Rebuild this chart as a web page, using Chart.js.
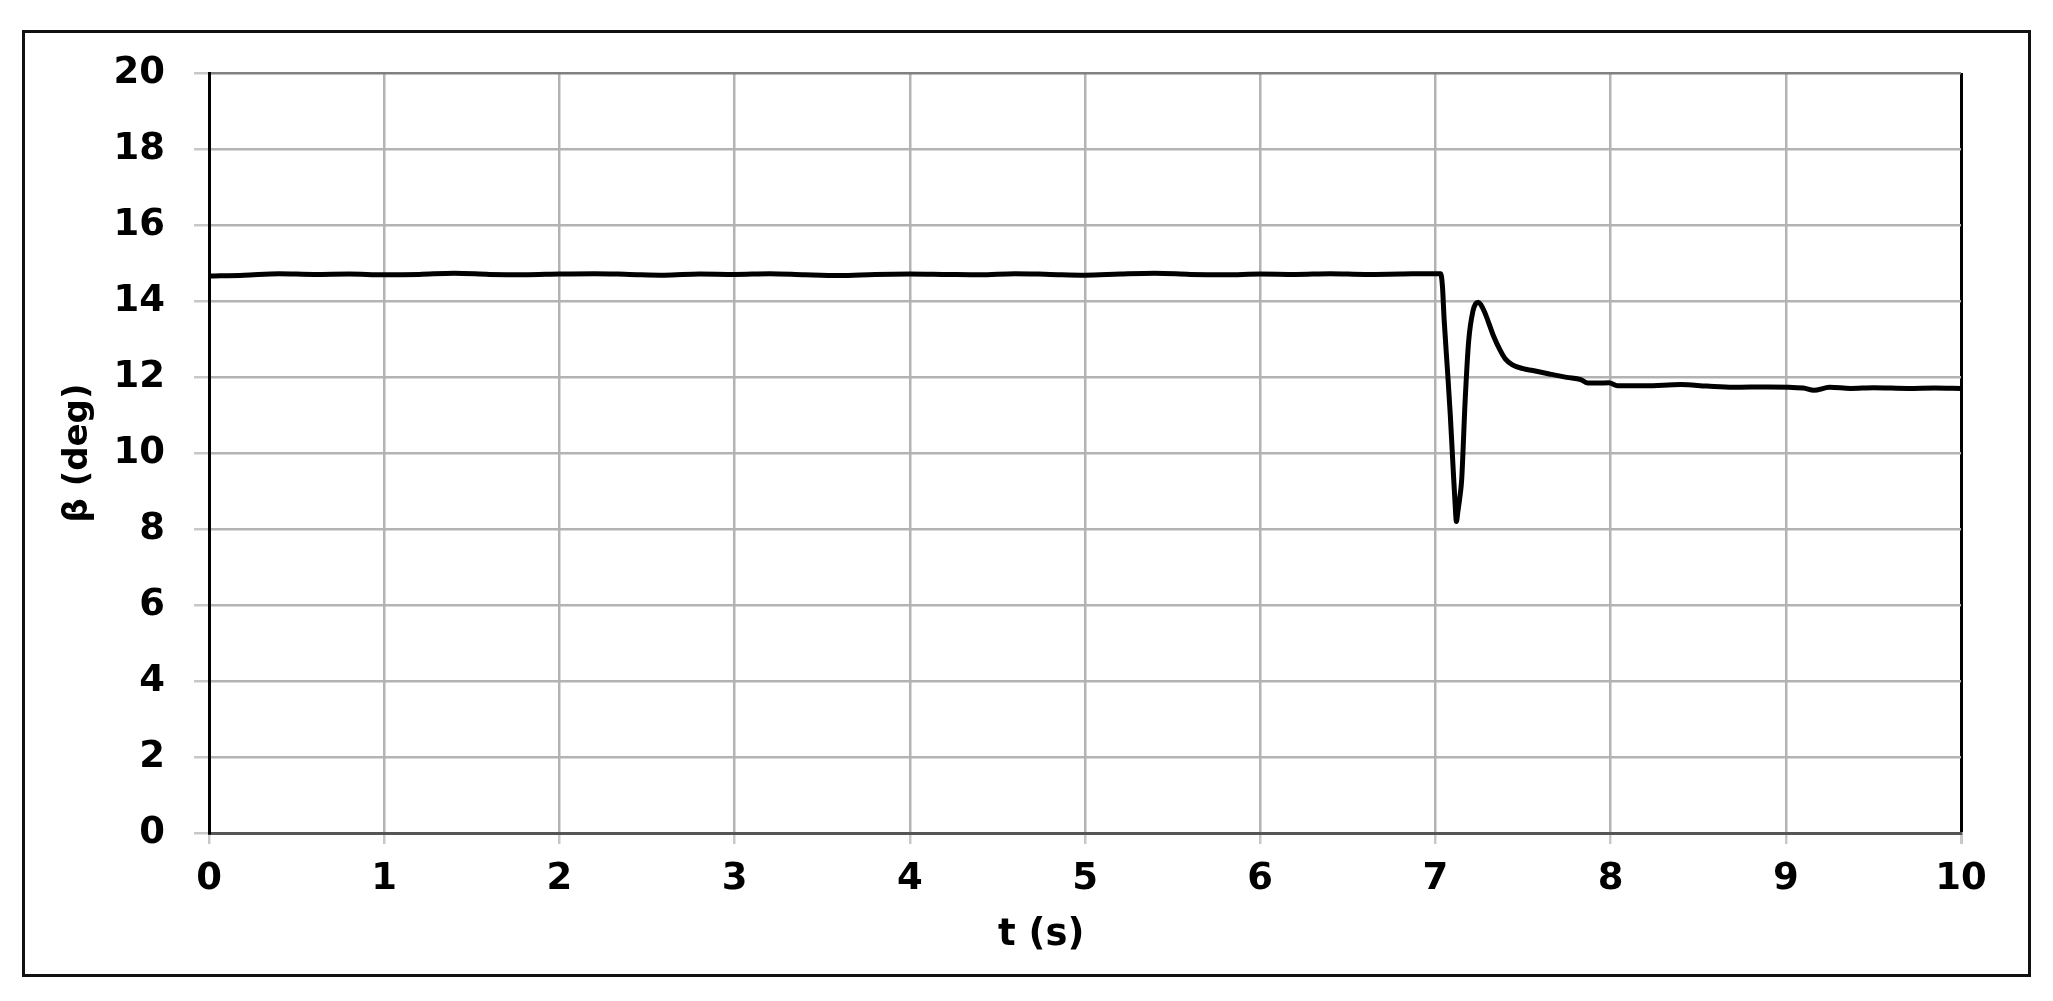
<!DOCTYPE html>
<html>
<head>
<meta charset="utf-8">
<script src="https://cdn.jsdelivr.net/npm/chart.js@4.4.0/dist/chart.umd.min.js"></script>
<style>
  html, body { margin: 0; padding: 0; background: #fff; }
  #wrap { width: 2053px; height: 1001px; }
</style>
</head>
<body>
<div id="wrap"><canvas id="grafico" width="2053" height="1001"></canvas></div>
<script>
// dados (tempo em s, beta em graus)
const tempo = [
  0, 0.2, 0.4, 0.6, 0.8, 1.0, 1.2, 1.4, 1.6, 1.8,
  2.0, 2.2, 2.4, 2.6, 2.8, 3.0, 3.2, 3.4, 3.6, 3.8,
  4.0, 4.2, 4.4, 4.6, 4.8, 5.0, 5.2, 5.4, 5.6, 5.8,
  6.0, 6.2, 6.4, 6.6, 6.8, 7.0,
  7.03, 7.04, 7.05, 7.07, 7.085, 7.10, 7.112, 7.12, 7.128, 7.14,
  7.15, 7.17, 7.19, 7.215, 7.23, 7.245, 7.26, 7.28, 7.30, 7.33,
  7.37, 7.40, 7.44, 7.50, 7.556, 7.65, 7.75, 7.83, 7.87, 7.93,
  7.99, 8.04, 8.2, 8.4, 8.55, 8.7, 8.9, 9.1, 9.16, 9.25,
  9.37, 9.5, 9.7, 9.85, 10
];
const beta = [
  14.66, 14.68, 14.72, 14.70, 14.71, 14.69, 14.70, 14.73, 14.70, 14.69,
  14.71, 14.72, 14.70, 14.68, 14.71, 14.70, 14.72, 14.69, 14.67, 14.70,
  14.71, 14.70, 14.69, 14.72, 14.70, 14.68, 14.71, 14.73, 14.70, 14.69,
  14.71, 14.70, 14.72, 14.70, 14.71, 14.72,
  14.72, 14.4, 13.5, 12.1, 11.0, 9.7, 8.7, 8.2, 8.45, 8.85,
  9.3, 11.4, 12.95, 13.75, 13.93, 13.97, 13.9, 13.72, 13.48, 13.1,
  12.7, 12.47, 12.32, 12.22, 12.17, 12.08, 11.99, 11.93, 11.84, 11.84,
  11.85, 11.77, 11.77, 11.80, 11.76, 11.73, 11.74, 11.71, 11.65, 11.73,
  11.70, 11.72, 11.70, 11.71, 11.70
];
const xTicks = [0, 1, 2, 3, 4, 5, 6, 7, 8, 9, 10];
const yTicks = [0, 2, 4, 6, 8, 10, 12, 14, 16, 18, 20];
const tituloX = 't (s)';
const tituloY = 'β (deg)';

const fonte = '"DejaVu Sans", "Liberation Sans", sans-serif';

// moldura externa + título do eixo x (deslocado à esquerda como no original)
const extras = {
  id: 'extras',
  afterDraw(chart) {
    const ctx = chart.ctx;
    const a = chart.chartArea;
    ctx.save();
    ctx.strokeStyle = '#111';
    ctx.lineWidth = 3;
    ctx.strokeRect(23.5, 31.5, 2006, 944);
    ctx.font = 'bold 37px ' + fonte;
    ctx.fillStyle = '#000';
    ctx.textAlign = 'center';
    ctx.textBaseline = 'middle';
    ctx.fillText(tituloX, a.left + (a.right - a.left) * 0.475, a.bottom + 102);
    ctx.restore();
  }
};

const pontos = tempo.map((t, i) => ({ x: t, y: beta[i] }));

new Chart(document.getElementById('grafico').getContext('2d'), {
  type: 'line',
  data: {
    datasets: [{
      data: pontos,
      borderColor: '#000',
      borderWidth: 5,
      pointRadius: 0,
      fill: false,
      cubicInterpolationMode: 'monotone'
    }]
  },
  options: {
    responsive: false,
    animation: false,
    layout: { padding: { top: 73, right: 92, bottom: 78, left: 0 } },
    plugins: { legend: { display: false }, tooltip: { enabled: false } },
    scales: {
      x: {
        type: 'linear',
        min: 0, max: 10,
        afterBuildTicks: s => { s.ticks = xTicks.map(v => ({ value: v })); },
        afterFit: s => { s.height = 90; },
        ticks: {
          color: '#000',
          padding: 13,
          maxRotation: 0,
          font: { family: fonte, size: 37, weight: 'bold' }
        },
        grid: {
          color: c => (c.tick && c.tick.value === 10) ? '#000' : '#b3b3b3',
          lineWidth: c => (c.tick && c.tick.value === 10) ? 3 : 2.5,
          tickColor: '#c8c8c8',
          tickLength: 11
        },
        border: { color: '#555', width: 3 }
      },
      y: {
        min: 0, max: 20,
        afterBuildTicks: s => { s.ticks = yTicks.map(v => ({ value: v })); },
        afterFit: s => { s.width = 209; },
        ticks: {
          color: '#000',
          padding: 29,
          font: { family: fonte, size: 37, weight: 'bold' }
        },
        grid: {
          color: c => (c.tick && c.tick.value === 20) ? '#808080' : '#b3b3b3',
          lineWidth: 2.5,
          tickColor: '#c8c8c8',
          tickLength: 15
        },
        border: { color: '#000', width: 3 },
        title: {
          display: true,
          text: tituloY,
          color: '#000',
          padding: { top: 58, bottom: 0 },
          font: { family: fonte, size: 34, weight: 'bold' }
        }
      }
    }
  },
  plugins: [extras]
});
</script>
</body>
</html>
